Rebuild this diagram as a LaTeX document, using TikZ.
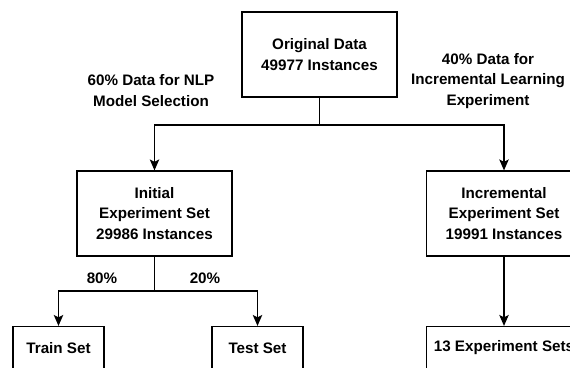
\documentclass[tikz,border=0pt]{standalone}
\usepackage{fontspec}
\setmainfont{Liberation Sans}
\usetikzlibrary{arrows.meta}
\begin{document}
\begin{tikzpicture}[x=1pt,y=-1pt,
  lbl/.style={align=center, inner sep=0pt, font=\bfseries\fontsize{15.2}{20.8}\selectfont},
  box/.style={lbl, draw, line width=1.2pt, fill=white},
  wide/.style={box, minimum width=155pt, minimum height=85pt},
  leaf/.style={box, minimum width=91pt, minimum height=43pt},
  link/.style={line width=1.2pt},
  flow/.style={link, -{Stealth[length=11pt, width=9.5pt, inset=2.5pt]}}]
  \useasboundingbox (0,0) rectangle (570,367);
  \clip (0,0) rectangle (570,367);
  \fill[white] (0,0) rectangle (570,367);

  % boxes
  \node[wide] (orig) at (319.5,54.5) {Original Data\\49977 Instances};
  \node[wide] (init) at (154.5,213.5) {Initial\\Experiment Set\\29986 Instances};
  \node[wide] (incr) at (504,213.5) {Incremental\\Experiment Set\\19991 Instances};
  \node[leaf] (train) at (58.5,348) {Train Set};
  \node[leaf] (test) at (257.5,348) {Test Set};
  \node[box, minimum width=155pt, minimum height=43pt] (sets) at (504,348) {13 Experiment Sets};

  % edge labels
  \node[lbl] (l60) at (151,90.5) {60\% Data for NLP\\Model Selection};
  \node[lbl] (l40) at (488,81) {40\% Data for\\Incremental Learning\\Experiment};
  \node[lbl] (l80) at (102,278) {80\%};
  \node[lbl] (l20) at (205,278) {20\%};

  % first split
  \coordinate (j1) at (319.5,125);
  \draw[link] (orig.south) -- (j1);
  \draw[flow] (j1) -| (init.north);
  \draw[flow] (j1) -| (incr.north);

  % second split
  \coordinate (j2) at (154.5,291);
  \draw[link] (init.south) -- (j2);
  \draw[flow] (j2) -| (train.north);
  \draw[flow] (j2) -| (test.north);

  \draw[flow] (incr.south) -- (sets.north);
\end{tikzpicture}
\end{document}
